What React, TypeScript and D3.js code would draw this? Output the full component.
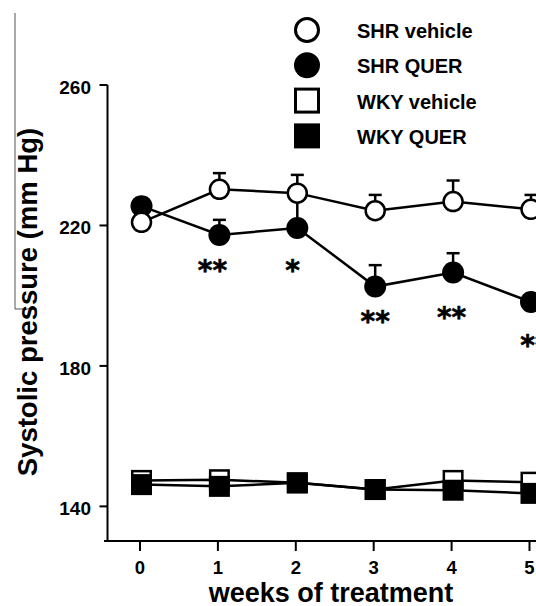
import React from "react";
import * as d3 from "d3";

// values (mm Hg)
const weeks = [0, 1, 2, 3, 4, 5];
const shrVehicle = [220.9, 230.3, 229.2, 224.2, 226.8, 224.6];
const shrVehicleErr = [0, 4.6, 5.2, 4.5, 6.0, 4.1];
const shrQuer = [225.5, 217.3, 219.3, 202.6, 206.6, 198.2];
const shrQuerErr = [2.3, 4.3, 8, 6.1, 5.5, 0];
const wkyVehicle = [147.4, 147.6, 146.7, 144.8, 147.4, 146.9];
const wkyQuer = [146.2, 145.7, 146.7, 144.8, 144.6, 143.7];

const yTicks = [140, 180, 220, 260];
const xTicks = [0, 1, 2, 3, 4, 5];

// significance marks: position in week / mm Hg units
const sigWeek = [0.91, 1.94, 3.0, 3.98, 5.05];
const sigValue = [208.7, 208.7, 194.2, 195.4, 187.3];
const sigLabel = ["**", "*", "**", "**", "**"];

const legendLabels = ["SHR vehicle", "SHR QUER", "WKY vehicle", "WKY QUER"];
const legendShapes = ["openCircle", "filledCircle", "openSquare", "filledSquare"];

const W = 536;
const H = 606;
const font = "'Liberation Sans', Arial, Helvetica, sans-serif";

const App: React.FC = () => {
  const x = d3.scaleLinear().domain([0, 5]).range([141.5, 531]);
  const y = d3.scaleLinear().domain([130, 260]).range([541.5, 85]);
  const axisX = 107.5;
  const axisY = 541;

  const line = d3
    .line<number>()
    .x((_, i) => x(weeks[i]))
    .y((d) => y(d));

  const errBars = (vals: number[], errs: number[], key: string) =>
    vals.map((v, i) =>
      errs[i] > 0 ? (
        <g key={`${key}-${i}`} stroke="#000" strokeWidth={2.5}>
          <line x1={x(weeks[i])} x2={x(weeks[i])} y1={y(v)} y2={y(v + errs[i])} />
          <line
            x1={x(weeks[i]) - 6.5}
            x2={x(weeks[i]) + 6.5}
            y1={y(v + errs[i])}
            y2={y(v + errs[i])}
          />
        </g>
      ) : null
    );

  const sq = 21;

  return (
    <div style={{ position: "absolute", left: 0, top: 0 }}>
      <svg width={W} height={H} style={{ display: "block", background: "#fff" }}>
        {/* scan edge artifact */}
        <path d="M15,13 V309 H37" fill="none" stroke="#555" strokeWidth={1} />

        {/* y axis */}
        <line x1={axisX} x2={axisX} y1={y(260)} y2={axisY} stroke="#000" strokeWidth={2} />
        {yTicks.map((t) => (
          <g key={`yt${t}`}>
            <line x1={axisX - 8} x2={axisX} y1={y(t)} y2={y(t)} stroke="#000" strokeWidth={2} />
            <text
              x={91}
              y={y(t) + 9}
              textAnchor="end"
              fontFamily={font}
              fontWeight="bold"
              fontSize={19}
            >
              {t}
            </text>
          </g>
        ))}
        <text
          transform={`translate(37,${302}) rotate(-90)`}
          textAnchor="middle"
          fontFamily={font}
          fontWeight="bold"
          fontSize={27.5}
        >
          Systolic pressure (mm Hg)
        </text>

        {/* x axis */}
        <line x1={104} x2={W} y1={axisY} y2={axisY} stroke="#000" strokeWidth={2} />
        {xTicks.map((t) => (
          <g key={`xt${t}`}>
            <line x1={x(t) - 1.5} x2={x(t) - 1.5} y1={axisY} y2={axisY + 10} stroke="#000" strokeWidth={2} />
            <text
              x={x(t) - 1.5}
              y={574}
              textAnchor="middle"
              fontFamily={font}
              fontWeight="bold"
              fontSize={18.5}
            >
              {t}
            </text>
          </g>
        ))}
        <text
          x={331}
          y={602}
          textAnchor="middle"
          fontFamily={font}
          fontWeight="bold"
          fontSize={27}
        >
          weeks of treatment
        </text>

        {/* series lines */}
        <g fill="none" stroke="#000" strokeWidth={2.5}>
          <path d={line(shrVehicle) || ""} />
          <path d={line(shrQuer) || ""} />
          <path d={line(wkyVehicle) || ""} />
          <path d={line(wkyQuer) || ""} />
        </g>

        {/* error bars */}
        {errBars(shrVehicle, shrVehicleErr, "ev")}
        {errBars(shrQuer, shrQuerErr, "eq")}

        {/* WKY markers */}
        {wkyVehicle.map((v, i) => (
          <rect
            key={`wv${i}`}
            x={x(weeks[i]) - sq / 2 + 1.25}
            y={y(v) - sq / 2 + 1.25}
            width={sq - 2.5}
            height={sq - 2.5}
            fill="#fff"
            stroke="#000"
            strokeWidth={2.5}
          />
        ))}
        {wkyQuer.map((v, i) => (
          <rect
            key={`wq${i}`}
            x={x(weeks[i]) - sq / 2}
            y={y(v) - sq / 2}
            width={sq}
            height={sq}
            fill="#000"
          />
        ))}

        {/* SHR markers */}
        {shrQuer.map((v, i) => (
          <circle key={`sq${i}`} cx={x(weeks[i])} cy={y(v)} r={11} fill="#000" />
        ))}
        {shrVehicle.map((v, i) => (
          <circle
            key={`sv${i}`}
            cx={x(weeks[i])}
            cy={y(v)}
            r={9.5}
            fill="#fff"
            stroke="#000"
            strokeWidth={2.5}
          />
        ))}

        {/* significance */}
        {sigLabel.map((s, i) => (
          <text
            key={`sig${i}`}
            x={x(sigWeek[i])}
            y={y(sigValue[i]) + 15}
            textAnchor="middle"
            fontFamily="'DejaVu Sans', sans-serif"
            fontWeight="bold"
            fontSize={28}
            stroke="#000"
            strokeWidth={0.6}
          >
            {s}
          </text>
        ))}

        {/* legend */}
        {legendLabels.map((lab, i) => {
          const cy = 30 + i * 35.3;
          const cx = 307;
          const shape = legendShapes[i];
          return (
            <g key={lab}>
              {shape === "openCircle" && (
                <circle cx={cx} cy={cy} r={11.5} fill="#fff" stroke="#000" strokeWidth={3} />
              )}
              {shape === "filledCircle" && <circle cx={cx} cy={cy} r={13} fill="#000" />}
              {shape === "openSquare" && (
                <rect x={cx - 11.5} y={cy - 11.5} width={23} height={23} fill="#fff" stroke="#000" strokeWidth={3} />
              )}
              {shape === "filledSquare" && (
                <rect x={cx - 13} y={cy - 12.5} width={26} height={25} fill="#000" />
              )}
              <text
                x={357}
                y={cy + 8}
                fontFamily={font}
                fontWeight="bold"
                fontSize={20}
              >
                {lab}
              </text>
            </g>
          );
        })}
      </svg>
    </div>
  );
};

export default App;
